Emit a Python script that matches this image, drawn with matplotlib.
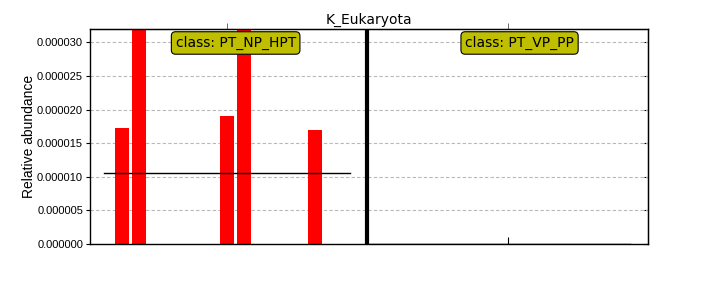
import matplotlib
matplotlib.use("Agg")
import matplotlib.pyplot as plt
from matplotlib.ticker import FormatStrFormatter
import numpy as np

title = "K_Eukaryota"
ylabel = "Relative abundance"
class_names = ["PT_NP_HPT", "PT_VP_PP"]
# relative abundance per sample (x1e-6), class 1 then class 2
class1_values = [17.2, 48.0, 0, 0, 0, 0, 19.0, 46.0, 0, 0, 0, 16.9, 0, 0]
class2_values = [0] * 15
yticks = [0, 5e-6, 10e-6, 15e-6, 20e-6, 25e-6, 30e-6]

v1 = np.array(class1_values) * 1e-6
v2 = np.array(class2_values) * 1e-6
x1 = np.arange(len(v1))
sep = len(v1)
x2 = np.arange(sep + 1, sep + 1 + len(v2))

fig = plt.figure(figsize=(7.2, 2.88), dpi=100)
ax = fig.add_axes([90/720, 44/288, 558/720, 215/288])

ax.bar(x1, v1, width=0.8, color="#ff0000", edgecolor="none", zorder=2)
ax.bar(x2, v2, width=0.8, color="#ff0000", edgecolor="none", zorder=2)

ax.plot([x1[0] - 1, x1[-1]], [v1.mean(), v1.mean()], color="k", lw=1, zorder=3)
ax.plot([x2[0] - 1, x2[-1]], [v2.mean(), v2.mean()], color="k", lw=1, zorder=3)
ax.axvline(sep, color="k", lw=3, zorder=4)

ax.set_xlim(-1.8, 30.0)
ax.set_ylim(0, 0.000032)
ax.set_yticks(yticks)
ax.yaxis.set_major_formatter(FormatStrFormatter("%.6f"))
xt = [(x1[0] + x1[-1]) / 2 - 0.5, (x2[0] + x2[-1]) / 2]
ax.set_xticks(xt)
ax.set_xticklabels([])
ax.tick_params(axis="x", direction="in", length=5, width=0.8, top=False)
ax.tick_params(axis="y", direction="out", length=3, width=0.8, right=False, pad=2)
for lab in ax.get_yticklabels():
    lab.set_fontfamily("Liberation Sans")
    lab.set_fontsize(8)

sx = ax.secondary_xaxis("top")
sx.set_xticks(xt)
sx.set_xticklabels([])
sx.tick_params(direction="out", length=4, width=0.6, colors="#555555")
sy = ax.secondary_yaxis("right")
sy.set_yticks(yticks)
sy.set_yticklabels([])
sy.tick_params(direction="in", length=3, width=0.8)

ax.yaxis.grid(True, color="#b8b8b8", linestyle=(0, (3, 2)), linewidth=0.8, zorder=0)
ax.set_axisbelow(True)

ax.set_title(title, fontsize=10, pad=4, family="DejaVu Sans")
ax.set_ylabel(ylabel, fontsize=10, family="Liberation Sans", labelpad=1)

label_x = [6.5, 22.68]
for cx, name in zip(label_x, class_names):
    ax.text(cx, 0.935, "class: " + name, transform=ax.get_xaxis_transform(),
            ha="center", va="center", fontsize=10, family="DejaVu Sans", zorder=6,
            bbox=dict(boxstyle="round,pad=0.3", facecolor="#bfbf00", edgecolor="k", lw=0.8))

for s in ax.spines.values():
    s.set_linewidth(1)

fig.savefig("out.png", dpi=100)
